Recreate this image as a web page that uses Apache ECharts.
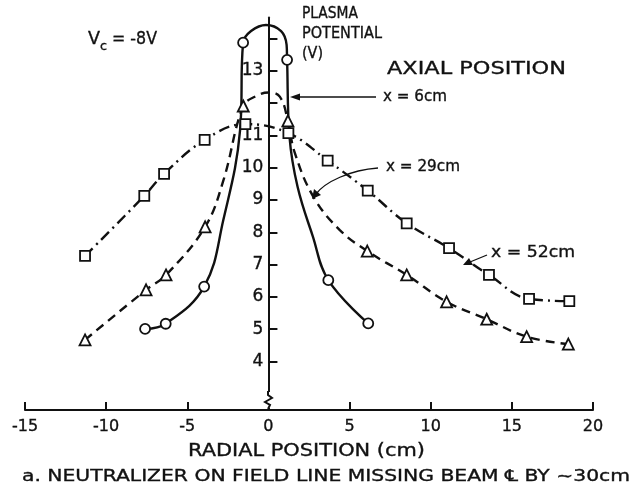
<!DOCTYPE html>
<html>
<head>
<meta charset="utf-8">
<style>
  html, body { margin: 0; padding: 0; background: #fff; }
  #chart { width: 637px; height: 487px; }
</style>
<script src="https://cdn.jsdelivr.net/npm/echarts@6/dist/echarts.min.js"></script>
</head>
<body>
<div id="chart"></div>
<script>
// Plasma potential (V) against radial position (cm) at three axial positions.

// axis ticks and labels
const yTickValues = [4, 5, 6, 7, 8, 9, 10, 11, 12, 13, 14];
const yLabelValues = [4, 5, 6, 7, 8, 9, 10, 11, 13];

// x = 6 cm: measured points (circles) and extra bends of the faired curve
const x6Points = [[-7.6, 5.01], [-6.33, 5.17], [-3.96, 6.32], [-1.56, 13.87], [1.15, 13.34], [3.69, 6.52], [6.15, 5.18]];
const x6Bends = [[-2.78, 8.38], [-1.75, 11.15], [-1.07, 14.23], [-0.15, 14.42], [0.78, 14.23], [1.12, 13.8], [1.3, 10.95], [1.8, 9.4], [2.72, 7.9]];

// x = 29 cm: measured points (triangles) and curve bends
const x29Points = [[-11.3, 4.67], [-7.54, 6.22], [-6.31, 6.68], [-3.9, 8.17], [-1.55, 11.91], [1.2, 11.45], [6.09, 7.42], [8.52, 6.68], [10.98, 5.85], [13.45, 5.31], [15.91, 4.77], [18.48, 4.54]];
const x29Bends = [[-2.78, 9.6], [-0.75, 12.22], [0, 12.33], [0.7, 12.2], [1.6, 10.5], [2.77, 9.1], [4.4, 8.07]];

// x = 52 cm: measured points (squares)
const x52Points = [[-11.3, 7.27], [-7.65, 9.13], [-6.43, 9.81], [-3.93, 10.86], [-1.42, 11.35], [1.23, 11.07], [3.65, 10.22], [6.12, 9.29], [8.52, 8.28], [11.13, 7.51], [13.59, 6.68], [16.06, 5.94], [18.54, 5.87]];
const x52Bends = [];

const FONT = 'DejaVu Sans';
const INK = '#111';

// plot frame: radial axis -15..20 cm, potential axis 2.5..14.65 V
const GRID = { left: 25, right: 44, top: 17.5, bottom: 77 };
const X_MIN = -15, X_MAX = 20, Y_MIN = 2.5, Y_MAX = 14.65;
const zeroX = GRID.left + (0 - X_MIN) / (X_MAX - X_MIN) * (637 - GRID.left - GRID.right);

function curvePath(points, bends) {
  return points.concat(bends).slice().sort((a, b) => a[0] - b[0]);
}

function curveSeries(points, bends, dash) {
  return {
    type: 'line',
    data: curvePath(points, bends),
    smooth: 0.4,
    showSymbol: false,
    symbol: 'none',
    silent: true,
    z: 2,
    lineStyle: { color: INK, width: 2.4, type: dash, cap: 'butt' }
  };
}

function markSeries(points, symbol, size) {
  return {
    type: 'scatter',
    data: points,
    symbol: symbol,
    symbolSize: size,
    z: 4,
    itemStyle: { color: '#fff', borderColor: INK, borderWidth: 1.8, opacity: 1 }
  };
}

// lettering stretched to a given width
const measureCtx = document.createElement('canvas').getContext('2d');
function lettering(text, x, y, width, size, align) {
  measureCtx.font = size + 'px "' + FONT + '"';
  const w = measureCtx.measureText(text).width;
  return {
    type: 'text', x: x, y: y, scaleX: width / w, z: 10,
    style: {
      text: text, fontFamily: FONT, fontSize: size, fill: INK,
      stroke: INK, lineWidth: 0.35,
      align: align || 'left', verticalAlign: 'middle'
    }
  };
}

const chart = echarts.init(document.getElementById('chart'), null, { renderer: 'canvas' });

const labelStyle = (size) => ({
  color: INK, fontFamily: FONT, fontSize: size,
  textBorderColor: INK, textBorderWidth: 0.35
});

chart.setOption({
  animation: false,
  backgroundColor: '#fff',
  grid: [
    Object.assign({ containLabel: false, outerBoundsMode: 'none' }, GRID),
    // narrow frame carrying the potential scale at radial position 0
    { left: zeroX, width: 1, top: GRID.top, bottom: GRID.bottom, containLabel: false, outerBoundsMode: 'none' }
  ],
  xAxis: [
    {
      type: 'value', gridIndex: 0,
      min: X_MIN, max: X_MAX, interval: 5,
      axisLine: { onZero: false, lineStyle: { color: INK, width: 2 } },
      axisTick: { inside: true, length: 8, lineStyle: { color: INK, width: 2 } },
      axisLabel: Object.assign(labelStyle(16), { margin: 9 }),
      splitLine: { show: false }
    },
    { type: 'value', gridIndex: 1, min: 0, max: 1, show: false }
  ],
  yAxis: [
    { type: 'value', gridIndex: 0, min: Y_MIN, max: Y_MAX, show: false },
    {
      type: 'value', gridIndex: 1, position: 'left',
      min: Y_MIN, max: Y_MAX,
      axisLine: { show: true, onZero: false, lineStyle: { color: INK, width: 2 } },
      axisTick: { show: true, inside: true, length: 9, customValues: yTickValues, lineStyle: { color: INK, width: 2 } },
      axisLabel: Object.assign(labelStyle(17), { margin: 5, customValues: yLabelValues }),
      splitLine: { show: false }
    }
  ],
  series: [
    curveSeries(x52Points, x52Bends, [11, 5, 2, 5]),
    curveSeries(x29Points, x29Bends, [9, 6]),
    curveSeries(x6Points, x6Bends, 'solid'),
    markSeries(x52Points, 'rect', 10),
    markSeries(x29Points, 'triangle', 11),
    markSeries(x6Points, 'circle', 10)
  ],
  graphic: [
    // break in the potential axis just above the radial axis
    { type: 'rect', shape: { x: 262, y: 392, width: 12, height: 16 }, style: { fill: '#fff' }, z: 10 },
    { type: 'polyline', shape: { points: [[268, 391], [268, 395], [272, 398], [265, 402], [270, 405], [268, 409]] },
      style: { stroke: INK, lineWidth: 2, fill: null }, z: 11 },

    // V_c = -8V
    lettering('V', 88, 40, 12, 17),
    lettering('c', 100, 47, 7, 13),
    lettering('= -8V', 112, 40, 45, 17),

    // vertical axis title
    lettering('PLASMA', 302, 14, 56, 16),
    lettering('POTENTIAL', 302, 34, 80, 16),
    lettering('(V)', 302, 54, 21, 16),

    // legend heading
    lettering('AXIAL POSITION', 387, 69, 179, 18),

    // x = 6cm with arrow
    { type: 'line', shape: { x1: 298, y1: 97, x2: 376, y2: 97 }, style: { stroke: INK, lineWidth: 1.3 }, z: 10 },
    { type: 'polygon', shape: { points: [[290, 97], [300, 93.5], [300, 100.5]] }, style: { fill: INK }, z: 10 },
    lettering('x = 6cm', 383, 97, 64, 16),

    // x = 29cm with curved arrow
    { type: 'bezierCurve', shape: { x1: 378, y1: 168, cpx1: 350, cpy1: 170, cpx2: 325, cpy2: 182, x2: 316, y2: 194 },
      style: { stroke: INK, lineWidth: 1.3, fill: null }, z: 10 },
    { type: 'polygon', shape: { points: [[312, 199], [314, 189], [321, 195]] }, style: { fill: INK }, z: 10 },
    lettering('x = 29cm', 386, 167, 74, 16),

    // x = 52cm with arrow
    { type: 'line', shape: { x1: 487, y1: 255, x2: 470, y2: 262 }, style: { stroke: INK, lineWidth: 1.3 }, z: 10 },
    { type: 'polygon', shape: { points: [[463, 265], [469, 258], [473, 265]] }, style: { fill: INK }, z: 10 },
    lettering('x = 52cm', 491, 253, 84, 16),

    // radial axis title and caption
    lettering('RADIAL POSITION (cm)', 306.5, 452, 237, 17, 'center'),
    lettering('a. NEUTRALIZER ON FIELD LINE MISSING BEAM \u2104 BY ~30cm', 326, 477, 608, 16, 'center')
  ]
});
</script>
</body>
</html>
